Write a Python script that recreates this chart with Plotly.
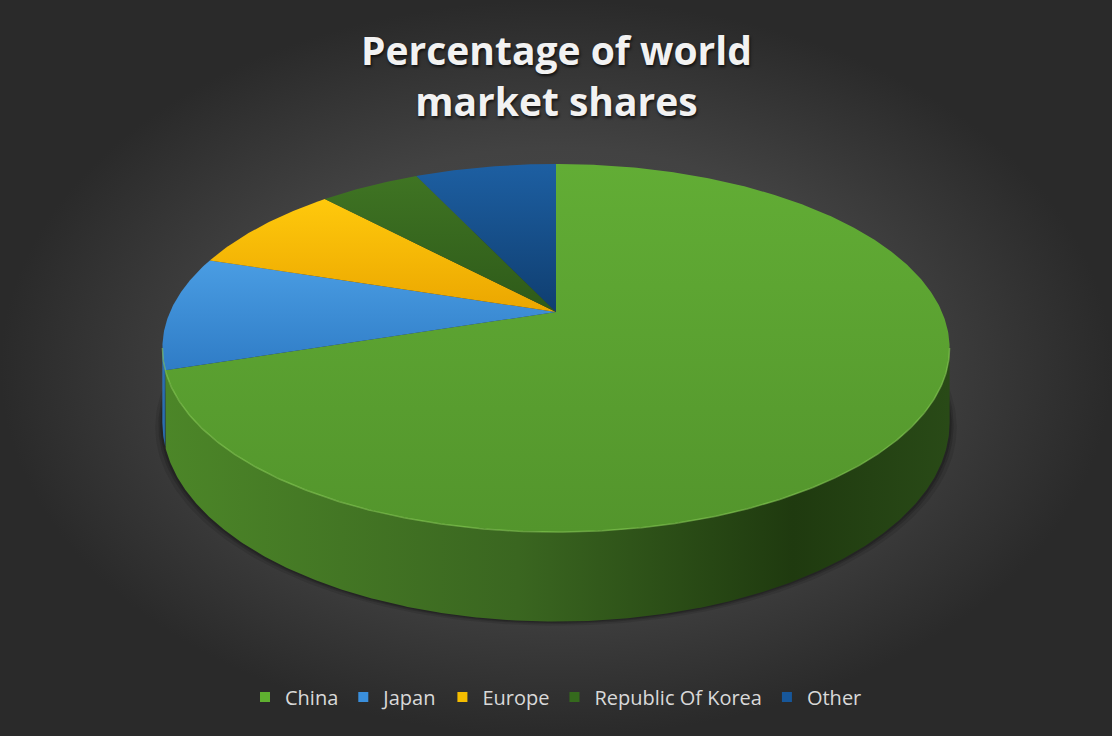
import numpy as np
import plotly.graph_objects as go

# ---- data -------------------------------------------------------------
categories = ["China", "Japan", "Europe", "Republic Of Korea", "Other"]
shares = [70, 10, 8, 5, 7]

# ---- styling ----------------------------------------------------------
top_light = ["#62ad35", "#4a9de3", "#ffc90c", "#3f7423", "#1d5fa2"]
top_dark = ["#53952c", "#2f7cc6", "#eba600", "#2e5a19", "#0f3e70"]
side_scales = [
    [[0, "#4c8628"], [0.45, "#3a6620"], [0.8, "#1f3a0f"], [1, "#294a17"]],
    [[0, "#3078bf"], [1, "#245f99"]],
    [[0, "#d99a00"], [1, "#b07d00"]],
    [[0, "#2e5a19"], [1, "#1f3d10"]],
    [[0, "#0f3e70"], [1, "#0a2c50"]],
]
legend_colors = ["#5fb030", "#3a8fdc", "#f5bd00", "#356a1d", "#17579a"]

W, H_PX = 1112, 736

# projection of the pie disk (perspective view from above)
CX, CY = 556.0, 312.0   # pie centre on screen
RX, RY = 386.0, 177.0   # horizontal / vertical radius
PERSP = 0.1956          # perspective strength
DEPTH = 72.0            # thickness of the pie


def project(theta, drop=0.0):
    xs = np.sin(theta)
    zs = np.cos(theta)
    w = 1.0 + PERSP * zs
    return CX + RX * xs / w, CY - RY * zs / w + drop / w


fig = go.Figure()

# background with a soft radial light
fig.add_trace(go.Scatter(
    x=[0, W, W, 0, 0], y=[0, 0, H_PX, H_PX, 0], mode="lines",
    line=dict(width=0), fill="toself",
    fillgradient=dict(type="radial",
                      colorscale=[[0, "#4e4e4e"], [0.6, "#424242"], [1, "#2a2a2a"]]),
    hoverinfo="skip", showlegend=False))

# slice angles, clockwise from 12 o'clock
total = float(sum(shares))
bounds = np.concatenate([[0.0], np.cumsum(shares) / total * 2 * np.pi])

# soft shadow under the pie
full = np.linspace(0, 2 * np.pi, 361)
for grow, alpha in [(7, 0.10), (4, 0.14), (2, 0.18)]:
    bx, by = project(full, DEPTH)
    sx = CX + (bx - CX) * (1 + grow / RX)
    sy = by + grow * 0.6
    fig.add_trace(go.Scatter(x=sx, y=sy, mode="lines", line=dict(width=0),
                             fill="toself", fillcolor=f"rgba(0,0,0,{alpha})",
                             hoverinfo="skip", showlegend=False))

# visible front wall lies between the two silhouette angles
t_right = np.arccos(-PERSP)
t_left = 2 * np.pi - t_right

for i, cat in enumerate(categories):
    a0, a1 = bounds[i], bounds[i + 1]
    lo, hi = max(a0, t_right), min(a1, t_left)
    if hi <= lo:
        continue
    t = np.linspace(lo, hi, max(4, int((hi - lo) * 120)))
    tx, ty = project(t)
    bx, by = project(t[::-1], DEPTH)
    xs = np.concatenate([tx, bx, tx[:1]])
    ys = np.concatenate([ty, by, ty[:1]])
    fig.add_trace(go.Scatter(
        x=xs, y=ys, mode="lines", line=dict(width=0), fill="toself",
        fillgradient=dict(type="horizontal", colorscale=side_scales[i],
                          start=float(xs.min()), stop=float(xs.max())),
        hoverinfo="skip", showlegend=False))

# top faces
for i, cat in enumerate(categories):
    a0, a1 = bounds[i], bounds[i + 1]
    t = np.linspace(a0, a1, max(4, int((a1 - a0) * 120)))
    ax_, ay_ = project(t)
    xs = np.concatenate([[CX], ax_, [CX]])
    ys = np.concatenate([[CY], ay_, [CY]])
    fig.add_trace(go.Scatter(
        x=xs, y=ys, mode="lines", line=dict(width=0), fill="toself",
        fillgradient=dict(type="vertical",
                          colorscale=[[0, top_light[i]], [1, top_dark[i]]],
                          start=float(ys.min()), stop=float(ys.max())),
        name=cat, hovertemplate=f"{cat}: {shares[i]}%<extra></extra>",
        showlegend=False))

# light bevel along the front rim of the top face
t = np.linspace(t_right, t_left, 300)
rx, ry = project(t)
fig.add_trace(go.Scatter(x=rx, y=ry, mode="lines",
                         line=dict(color="rgba(140,210,90,0.55)", width=1.5),
                         hoverinfo="skip", showlegend=False))

# legend entries
for i, cat in enumerate(categories):
    fig.add_trace(go.Scatter(
        x=[None], y=[None], mode="markers", name=cat,
        marker=dict(symbol="square", size=10, color=legend_colors[i],
                    line=dict(width=0))))

fig.update_layout(
    width=W, height=H_PX,
    margin=dict(l=0, r=0, t=0, b=0),
    paper_bgcolor="#333333", plot_bgcolor="#333333",
    xaxis=dict(range=[0, W], visible=False, fixedrange=True),
    yaxis=dict(range=[H_PX, 0], visible=False, fixedrange=True),
    annotations=[dict(
        text="Percentage of world<br>market shares",
        xref="paper", yref="paper", x=0.5, y=1 - 75 / H_PX,
        xanchor="center", yanchor="middle", showarrow=False,
        font=dict(family="Open Sans", size=39, weight="bold", color="#f2f2f2",
                  shadow="1px 2px 3px rgba(0,0,0,0.7)"))],
    legend=dict(orientation="h", x=0.5, xanchor="center",
                y=1 - 697 / H_PX, yanchor="middle",
                font=dict(family="Open Sans", size=20, color="#d9d9d9"),
                bgcolor="rgba(0,0,0,0)", itemwidth=30),
    showlegend=True,
)

fig.write_html("out.html")
